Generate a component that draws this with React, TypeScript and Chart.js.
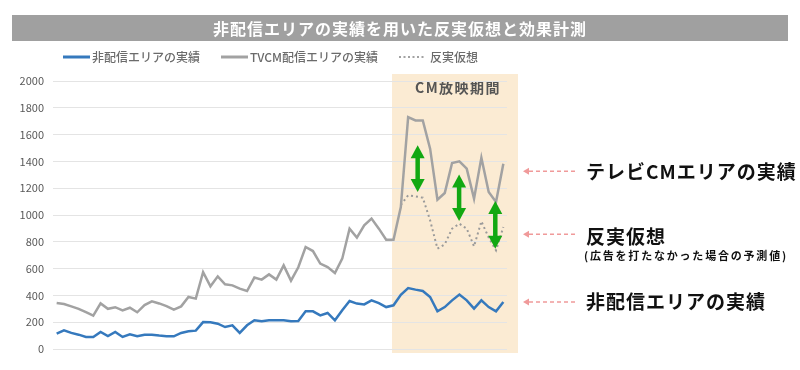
import { useEffect, useRef } from "react";
import { Chart, registerables } from "chart.js";

Chart.register(...registerables);

const TITLE = "非配信エリアの実績を用いた反実仮想と効果計測";
const SERIES_NAMES = ["非配信エリアの実績", "TVCM配信エリアの実績", "反実仮想"];
const BAND_LABEL = "CM放映期間";
const NOTE_TV = "テレビCMエリアの実績";
const NOTE_CF = "反実仮想";
const NOTE_CF_SUB = "(広告を打たなかった場合の予測値)";
const NOTE_NON = "非配信エリアの実績";

const categories = Array.from({ length: 62 }, (_, i) => String(i + 1));

const nonAreaValues = [
  115, 140, 120, 107, 90, 90, 127, 97, 127, 90,
  110, 95, 107, 107, 100, 95, 95, 120, 132, 137,
  201, 199, 189, 164, 177, 120, 177, 214, 207, 214,
  214, 214, 207, 209, 281, 281, 251, 269, 214, 289,
  358, 339, 333, 363, 343, 313, 326, 405, 455, 443,
  433, 388, 281, 313, 363, 406, 363, 301, 363, 313,
  281, 351,
];

const tvcmValues = [
  343, 336, 318, 300, 275, 249, 340, 300, 312, 288,
  308, 274, 328, 356, 340, 320, 294, 318, 388, 376,
  574, 468, 542, 483, 475, 450, 433, 533, 518, 557,
  518, 624, 510, 610, 761, 731, 637, 612, 567, 674,
  898, 831, 923, 973, 898, 816, 816, 1059, 1731, 1706,
  1706, 1495, 1114, 1164, 1388, 1400, 1346, 1122, 1428, 1171,
  1097, 1383,
];

const counterfactualValues: (number | null)[] = [
  null, null, null, null, null, null, null, null, null, null,
  null, null, null, null, null, null, null, null, null, null,
  null, null, null, null, null, null, null, null, null, null,
  null, null, null, null, null, null, null, null, null, null,
  null, null, null, null, null, null, null, 1075, 1147, 1139,
  1129, 960, 749, 781, 898, 935, 898, 766, 953, 831,
  736, 910,
];

const yTicks = [0, 200, 400, 600, 800, 1000, 1200, 1400, 1600, 1800, 2000];

// CM period (category index range)
const bandStartIndex = 45.8;
const bandEndIndex = 63.0;

// effect arrows: category position, top value, bottom value
const arrowIndex = [49.3, 54.96, 59.9];
const arrowTop = [1520, 1303, 1104];
const arrowBottom = [1171, 955, 749];

// side annotations anchored to y values
const noteValues = [1326, 856, 351];

const BLUE = "#3579BD";
const GRAY = "#A2A2A2";
const GREEN = "#12A812";
const PINK = "#F09A9A";
const FONT = '"Noto Sans CJK JP", "Noto Sans", sans-serif';

function drawSpaced(ctx: CanvasRenderingContext2D, text: string, x: number, y: number, spacing: number) {
  (ctx as any).letterSpacing = spacing + "px";
  ctx.fillText(text, x, y);
  (ctx as any).letterSpacing = "0px";
}

const decorPlugin = {
  id: "decor",
  beforeDraw(chart: any) {
    const { ctx, chartArea, scales } = chart;
    const x = scales.x;
    ctx.save();
    // CM band
    const l = x.getPixelForValue(bandStartIndex);
    const r = x.getPixelForValue(bandEndIndex);
    ctx.fillStyle = "#FBEBD3";
    ctx.fillRect(l, chartArea.top - 7, r - l, chartArea.bottom - chartArea.top + 11);

    // Title bar
    ctx.fillStyle = "#A0A0A0";
    ctx.fillRect(12, 15, 776, 26);
    ctx.fillStyle = "#FFFFFF";
    ctx.font = `bold 16px ${FONT}`;
    ctx.textAlign = "center";
    ctx.textBaseline = "middle";
    drawSpaced(ctx, TITLE, 400, 28.5, 1);

    // Legend
    const ly = 57;
    ctx.textAlign = "left";
    ctx.font = `500 12px ${FONT}`;
    ctx.fillStyle = "#6B6B6B";
    ctx.lineWidth = 3;
    ctx.strokeStyle = BLUE;
    ctx.beginPath(); ctx.moveTo(63, ly); ctx.lineTo(90, ly); ctx.stroke();
    ctx.fillText(SERIES_NAMES[0], 92, ly);
    ctx.strokeStyle = GRAY;
    ctx.beginPath(); ctx.moveTo(221, ly); ctx.lineTo(248, ly); ctx.stroke();
    ctx.fillText(SERIES_NAMES[1], 250, ly);
    ctx.lineWidth = 2;
    ctx.setLineDash([2, 2.5]);
    ctx.beginPath(); ctx.moveTo(399, ly); ctx.lineTo(425, ly); ctx.stroke();
    ctx.setLineDash([]);
    ctx.fillText(SERIES_NAMES[2], 430, ly);

    // Band label
    ctx.textAlign = "center";
    ctx.fillStyle = "#555555";
    ctx.font = `bold 14px ${FONT}`;
    drawSpaced(ctx, BAND_LABEL, (l + r) / 2 + 3, chartArea.top + 7, 1.5);
    ctx.restore();
  },
  afterDatasetsDraw(chart: any) {
    const { ctx, scales } = chart;
    const x = scales.x;
    const y = scales.y;
    ctx.save();
    // green double arrows
    ctx.fillStyle = GREEN;
    ctx.strokeStyle = GREEN;
    const headLen = 13;
    const headHalf = 7;
    for (let i = 0; i < arrowIndex.length; i++) {
      const ax = x.getPixelForValue(arrowIndex[i]);
      const t = y.getPixelForValue(arrowTop[i]);
      const b = y.getPixelForValue(arrowBottom[i]);
      ctx.lineWidth = 4.5;
      ctx.beginPath();
      ctx.moveTo(ax, t + headLen - 1);
      ctx.lineTo(ax, b - headLen + 1);
      ctx.stroke();
      ctx.beginPath();
      ctx.moveTo(ax, t);
      ctx.lineTo(ax + headHalf, t + headLen);
      ctx.lineTo(ax - headHalf, t + headLen);
      ctx.closePath();
      ctx.fill();
      ctx.beginPath();
      ctx.moveTo(ax, b);
      ctx.lineTo(ax + headHalf, b - headLen);
      ctx.lineTo(ax - headHalf, b - headLen);
      ctx.closePath();
      ctx.fill();
    }

    // side annotations
    const ax0 = 523;
    const ax1 = 578;
    for (let i = 0; i < noteValues.length; i++) {
      const py = y.getPixelForValue(noteValues[i]);
      ctx.fillStyle = PINK;
      ctx.beginPath();
      ctx.moveTo(ax0, py);
      ctx.lineTo(ax0 + 6, py - 3.5);
      ctx.lineTo(ax0 + 6, py + 3.5);
      ctx.closePath();
      ctx.fill();
      ctx.strokeStyle = PINK;
      ctx.lineWidth = 1.6;
      ctx.setLineDash([4, 3]);
      ctx.beginPath();
      ctx.moveTo(ax0 + 6, py);
      ctx.lineTo(ax1, py);
      ctx.stroke();
      ctx.setLineDash([]);
    }
    ctx.fillStyle = "#111111";
    ctx.textAlign = "left";
    ctx.textBaseline = "middle";
    ctx.font = `bold 19px ${FONT}`;
    const p0 = y.getPixelForValue(noteValues[0]);
    const p1 = y.getPixelForValue(noteValues[1]);
    const p2 = y.getPixelForValue(noteValues[2]);
    drawSpaced(ctx, NOTE_TV, 586, p0, 1);
    drawSpaced(ctx, NOTE_CF, 586, p1 + 2, 1);
    drawSpaced(ctx, NOTE_NON, 586, p2, 1);
    ctx.font = `bold 11px ${FONT}`;
    drawSpaced(ctx, NOTE_CF_SUB, 584, p1 + 22, 1.8);
    ctx.restore();
  },
};

export default function App() {
  const ref = useRef<HTMLCanvasElement | null>(null);
  useEffect(() => {
    if (!ref.current) return;
    const chart = new Chart(ref.current, {
      type: "line",
      data: {
        labels: categories,
        datasets: [
          {
            label: SERIES_NAMES[0],
            data: nonAreaValues,
            borderColor: BLUE,
            backgroundColor: BLUE,
            borderWidth: 2.5,
            pointRadius: 0,
            tension: 0,
          },
          {
            label: SERIES_NAMES[1],
            data: tvcmValues,
            borderColor: GRAY,
            backgroundColor: GRAY,
            borderWidth: 2.5,
            pointRadius: 0,
            tension: 0,
          },
          {
            label: SERIES_NAMES[2],
            data: counterfactualValues,
            borderColor: "#9A9A9A",
            backgroundColor: "#9A9A9A",
            borderWidth: 2,
            borderDash: [2, 3],
            pointRadius: 0,
            tension: 0,
            spanGaps: false,
          },
        ],
      },
      options: {
        animation: false,
        responsive: false,
        layout: { padding: { left: 0, right: 293, top: 81, bottom: 21 } },
        plugins: {
          legend: { display: false },
          title: { display: false },
          tooltip: { enabled: false },
        },
        scales: {
          x: {
            display: false,
            offset: true,
            grid: { display: false },
          },
          y: {
            min: 0,
            max: 2000,
            afterFit: (s: any) => {
              s.width = 53;
            },
            afterBuildTicks: (s: any) => {
              s.ticks = yTicks.map((v) => ({ value: v }));
            },
            border: { display: false },
            grid: { color: "#E4E4E4", lineWidth: 1, drawTicks: false },
            ticks: {
              padding: 9,
              color: "#595959",
              font: { family: FONT, size: 11 },
              callback: (v: any) => String(v),
            },
          },
        },
      },
      plugins: [decorPlugin],
    });
    return () => chart.destroy();
  }, []);
  return (
    <div style={{ position: "fixed", left: 0, top: 0, width: 800, height: 370, background: "#fff" }}>
      <canvas ref={ref} width={800} height={370} style={{ width: 800, height: 370, display: "block" }} />
    </div>
  );
}
